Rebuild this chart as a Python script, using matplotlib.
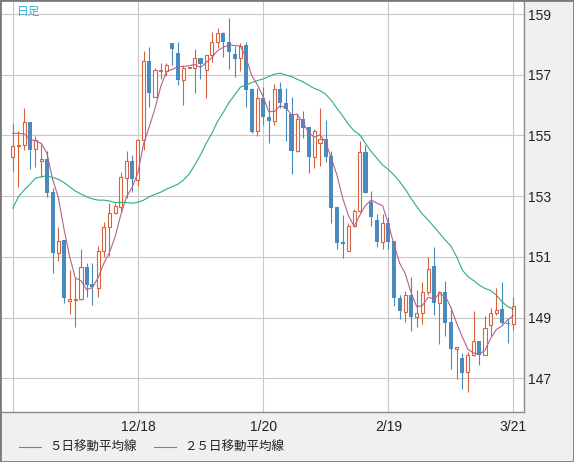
import matplotlib
matplotlib.use("Agg")
import matplotlib.pyplot as plt
from matplotlib.patches import Rectangle
import numpy as np
import pandas as pd

# daily candles (USD/JPY style)
opens = [154.30, 154.64, 154.68, 155.43, 154.54, 154.15, 154.21, 153.15, 151.14, 151.56,
         149.56, 149.59, 149.60, 150.66, 150.11, 149.96, 151.21, 151.97, 152.46, 152.65,
         153.59, 154.16, 153.53, 154.85, 157.45, 156.28, 157.12, 157.14, 158.03, 157.71,
         156.83, 157.23, 157.23, 157.56, 157.15, 157.65, 158.07, 158.37, 158.09, 157.67,
         157.54, 157.97, 156.52, 155.15, 156.25, 155.62, 155.49, 156.52, 156.06, 155.70,
         154.50, 155.53, 155.29, 154.30, 154.74, 154.88, 154.32, 152.66, 151.50, 151.21,
         152.02, 152.51, 154.45, 152.82, 152.22, 151.50, 152.11, 151.52, 149.63, 149.20,
         149.75, 149.03, 149.14, 149.83, 150.70, 149.49, 149.83, 148.86, 147.97, 147.66,
         147.20, 147.77, 148.23, 147.77, 148.76, 149.14, 149.28, 148.83, 148.78]
highs = [155.40, 155.15, 155.91, 155.43, 154.98, 154.74, 154.49, 153.26, 151.97, 151.56,
         150.57, 150.29, 151.25, 150.79, 150.79, 151.36, 152.16, 152.79, 152.79, 153.81,
         154.49, 154.36, 154.88, 157.78, 157.93, 157.21, 157.38, 157.38, 158.03, 158.08,
         157.32, 157.27, 157.84, 157.56, 157.65, 158.40, 158.53, 158.42, 158.86, 157.96,
         158.04, 158.07, 156.58, 156.55, 156.61, 156.17, 156.70, 156.75, 156.55, 156.28,
         155.73, 155.81, 155.29, 155.20, 155.90, 155.51, 154.50, 152.66, 152.38, 152.10,
         152.57, 154.82, 154.69, 153.17, 152.40, 152.41, 152.30, 151.52, 149.75, 149.88,
         150.33, 149.91, 150.17, 150.99, 151.31, 149.86, 150.20, 149.36, 148.04, 147.84,
         147.88, 149.22, 148.23, 149.06, 149.33, 149.96, 150.16, 148.99, 149.69]
lows = [153.83, 153.31, 154.52, 153.91, 153.97, 153.62, 152.98, 150.48, 150.88, 149.49,
        149.11, 148.68, 149.58, 149.67, 149.42, 149.69, 151.01, 151.03, 152.41, 152.52,
        152.93, 153.15, 153.34, 154.52, 155.95, 156.26, 156.85, 156.96, 157.32, 156.66,
        156.00, 157.21, 156.41, 156.87, 156.25, 157.43, 157.89, 157.57, 157.20, 156.92,
        157.13, 155.95, 155.09, 154.98, 155.35, 154.76, 155.35, 155.90, 154.83, 153.72,
        154.47, 154.93, 153.78, 153.94, 154.00, 154.14, 152.13, 151.25, 150.95, 151.21,
        152.00, 152.49, 153.10, 152.03, 151.34, 151.25, 151.25, 149.39, 148.94, 148.86,
        148.57, 148.68, 148.78, 149.75, 149.09, 148.12, 148.40, 147.31, 146.97, 146.66,
        146.56, 147.75, 147.44, 147.77, 148.40, 149.09, 148.79, 148.17, 148.59]
closes = [154.65, 154.69, 155.43, 154.52, 154.84, 154.21, 153.12, 151.14, 151.53, 149.66,
          149.60, 149.61, 150.66, 150.07, 150.00, 151.21, 151.97, 152.46, 152.68, 153.62,
          154.16, 153.56, 154.85, 157.45, 156.41, 157.16, 157.15, 157.31, 157.86, 156.83,
          157.23, 157.25, 157.54, 157.34, 157.65, 158.07, 158.37, 158.09, 157.76, 157.53,
          157.96, 156.50, 155.12, 156.22, 155.60, 155.49, 156.52, 156.06, 155.86, 154.50,
          155.53, 155.26, 154.30, 155.15, 154.88, 154.30, 152.62, 151.47, 151.41, 152.02,
          152.51, 154.45, 153.10, 152.30, 151.50, 152.11, 151.50, 149.63, 149.23, 149.75,
          149.03, 149.14, 149.83, 150.59, 149.49, 149.83, 148.83, 147.96, 148.02, 147.19,
          147.77, 148.24, 147.77, 148.65, 149.14, 149.25, 148.81, 148.78, 149.38]

# first four 5-day MA points (need data from before the window)
ma5_head = [155.07, 155.07, 155.05, 154.87]

ma25 = [152.60, 152.98, 153.20, 153.39, 153.59, 153.64, 153.67, 153.62, 153.56, 153.45,
        153.31, 153.17, 153.07, 152.98, 152.91, 152.87, 152.87, 152.84, 152.79, 152.80,
        152.79, 152.77, 152.80, 152.87, 152.98, 153.06, 153.13, 153.23, 153.31, 153.39,
        153.53, 153.73, 154.03, 154.36, 154.74, 155.07, 155.46, 155.76, 156.08, 156.33,
        156.59, 156.66, 156.74, 156.81, 156.86, 156.94, 157.02, 157.05, 156.99, 156.94,
        156.85, 156.77, 156.66, 156.55, 156.48, 156.36, 156.15, 155.89, 155.64, 155.37,
        155.15, 155.02, 154.74, 154.47, 154.25, 154.03, 153.88, 153.70, 153.48, 153.23,
        152.93, 152.66, 152.41, 152.22, 152.00, 151.78, 151.56, 151.36, 151.01, 150.57,
        150.35, 150.22, 150.07, 149.96, 149.89, 149.74, 149.52, 149.36, 149.28]

date_ticks = [0, 22, 44, 66, 88]
date_labels = ["", "12/18", "1/20", "2/19", "3/21"]
price_ticks = [147, 149, 151, 153, 155, 157, 159]

UP = "#d9613b"
DOWN = "#4a8bbf"
MA5_COLOR = "#b5608f"
MA25_COLOR = "#2eae78"
CJK = ["Noto Sans CJK JP", "DejaVu Sans"]

df = pd.DataFrame({"open": opens, "high": highs, "low": lows, "close": closes})
ma5 = df["close"].rolling(5).mean()
ma5.iloc[:4] = ma5_head
x = np.arange(len(df))
up = df["close"] >= df["open"]

fig = plt.figure(figsize=(5.74, 4.62), dpi=100, facecolor="#f0f0f0")
ax = fig.add_axes([1 / 574, 1 - 412 / 462, 522.5 / 574, 411 / 462])
ax.set_facecolor("white")

# wicks
ax.vlines(x[up], df["low"][up], df["high"][up], color=UP, linewidth=0.8, zorder=2)
ax.vlines(x[~up], df["low"][~up], df["high"][~up], color=DOWN, linewidth=0.8, zorder=2)

# bodies
h_up = (df["close"] - df["open"])[up].clip(lower=0.03)
ax.bar(x[up], h_up, bottom=df["open"][up], width=0.55,
       facecolor="white", edgecolor=UP, linewidth=0.8, zorder=3)
h_dn = (df["open"] - df["close"])[~up].clip(lower=0.05)
ax.bar(x[~up], h_dn, bottom=df["close"][~up], width=0.72,
       facecolor=DOWN, edgecolor="none", linewidth=0, zorder=3)

l5, = ax.plot(x, ma5, color=MA5_COLOR, linewidth=0.8, zorder=4, label="５日移動平均線")
l25, = ax.plot(x, ma25, color=MA25_COLOR, linewidth=0.8, zorder=4, label="２５日移動平均線")

ax.set_xlim(-2.06, 89.77)
ax.set_ylim(145.89, 159.43)
ax.set_xticks(date_ticks)
ax.set_xticklabels(date_labels)
ax.set_yticks(price_ticks)
ax.yaxis.tick_right()
ax.tick_params(axis="x", length=0, pad=5.5, labelsize=10, labelcolor="#222222")
ax.tick_params(axis="y", length=0, pad=3, labelsize=10, labelcolor="#222222")
for lab in ax.get_xticklabels() + ax.get_yticklabels():
    lab.set_family("Liberation Sans")

ax.set_axisbelow(True)
ax.grid(color="#c8c8c8", linewidth=0.8)
for side in ["left", "top"]:
    ax.spines[side].set_visible(False)
for side in ["right", "bottom"]:
    ax.spines[side].set_color("#8a8a8a")
    ax.spines[side].set_linewidth(1.0)

fig.text(17 / 574, 1 - 11 / 462, "日足", color="#3aaee0", fontsize=8.5,
         family=CJK, va="center", ha="left")

fig.legend(handles=[l5, l25], loc="center left", bbox_to_anchor=(8 / 574, 14.5 / 462),
           ncol=2, frameon=False, handlelength=1.7, handletextpad=0.7,
           columnspacing=1.4, prop={"family": CJK, "size": 9}, labelcolor="#222222")

fig.add_artist(Rectangle((0, 0), 1, 1, transform=fig.transFigure, fill=False,
                         edgecolor="#7a7a7a", linewidth=2))

fig.savefig("out.png", dpi=100, facecolor=fig.get_facecolor())
